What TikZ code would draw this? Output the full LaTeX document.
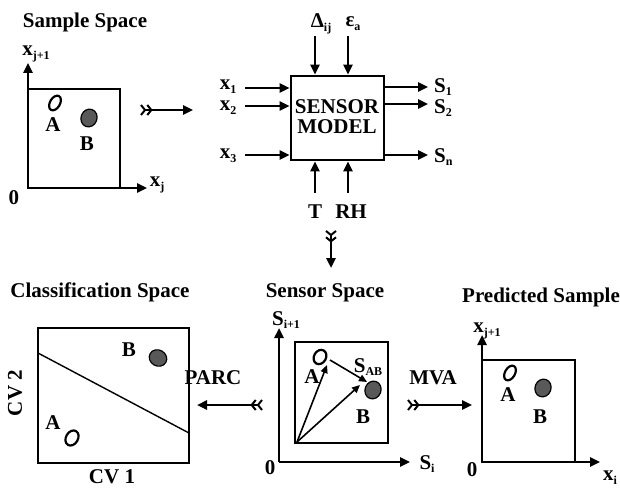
\documentclass[tikz,border=0pt]{standalone}
\usepackage{fontspec}
\setmainfont{Liberation Serif}
\usetikzlibrary{arrows.meta}
\newcommand{\sbs}[1]{\raisebox{-0.4ex}{\fontsize{12}{12}\selectfont #1}}
\begin{document}
\begin{tikzpicture}[x=1pt,y=-1pt,
  lbl/.style={font=\fontsize{21}{21}\selectfont\bfseries, inner sep=0pt},
  thk/.style={line width=2.6pt},
  arr/.style={line width=2.4pt, -{Triangle[length=10pt,width=9pt]}},
  varr/.style={line width=1.6pt, -{Triangle[length=8pt,width=7pt]}},
  farr/.style={line width=2.4pt, {Straight Barb[reversed,length=4pt,width=10pt,line width=2pt]Straight Barb[reversed,length=4pt,width=10pt,line width=2pt]}-{Triangle[length=10pt,width=9pt]}},
  openell/.style={draw, line width=2.2pt},
  fillell/.style={draw, line width=1.2pt, fill=black!65}
]
\useasboundingbox (0,0) rectangle (620,489);

% ---------- Sample Space ----------
\node[lbl] (t1) at (85,22) {Sample Space};
\coordinate (o1) at (28,188);
\coordinate (y1) at (28,63);
\coordinate (x1e) at (147,188);
\draw[arr] (o1) -- (y1);
\draw[arr] (o1) -- (x1e);
\draw[thk] (o1) -- (28,89) -- (120,89) -- (120,188) -- cycle;
\node[lbl] (l1y) at (36,54) {x\sbs{j+1}};
\node[lbl] (l1x) at (157,185) {x\sbs{j}};
\node[lbl] (l10) at (14,198) {0};
\draw[openell, rotate around={-30:(55,103)}] (55,103) ellipse [x radius=5, y radius=8];
\node[lbl] (l1a) at (53,125) {A};
\draw[fillell, rotate around={-20:(89,118)}] (89,118) ellipse [x radius=8, y radius=9];
\node[lbl] (l1b) at (87,144) {B};

\coordinate (s1from) at (140,110);
\coordinate (s1to) at (193,110);
\draw[farr] (s1from) -- (s1to);

% ---------- Sensor model ----------
\node[draw, thk, minimum width=93pt, minimum height=84pt, inner sep=0pt] (model) at (337.5,118) {};
\node[lbl, align=center, font=\fontsize{21}{20}\selectfont\bfseries] (mtext) at (337,117) {SENSOR\\MODEL};

\coordinate (in1) at (245,88);
\coordinate (in2) at (245,106);
\coordinate (in3) at (245,155);
\draw[arr] (in1) -- (in1 -| model.west);
\draw[arr] (in2) -- (in2 -| model.west);
\draw[arr] (in3) -- (in3 -| model.west);
\node[lbl] (lx1) at (228,87) {x\sbs{1}};
\node[lbl] (lx2) at (228,108) {x\sbs{2}};
\node[lbl] (lx3) at (228,156) {x\sbs{3}};

\coordinate (out1) at (428,87);
\coordinate (out2) at (428,104);
\coordinate (outn) at (428,155);
\draw[arr] (out1 -| model.east) -- (out1);
\draw[arr] (out2 -| model.east) -- (out2);
\draw[arr] (outn -| model.east) -- (outn);
\node[lbl, anchor=west] (ls1) at (434,87) {S\sbs{1}};
\node[lbl, anchor=west] (ls2) at (434,108) {S\sbs{2}};
\node[lbl, anchor=west] (lsn) at (434,157) {S\sbs{n}};

\coordinate (dtop) at (315,36);
\coordinate (etop) at (348,36);
\draw[arr] (dtop) -- (dtop |- model.north);
\draw[arr] (etop) -- (etop |- model.north);
\node[lbl] (ld) at (321,24) {Δ\sbs{ij}};
\node[lbl] (le) at (353,24) {ε\sbs{a}};

\coordinate (tbot) at (315,193);
\coordinate (rbot) at (348,193);
\draw[arr] (tbot) -- (tbot |- model.south);
\draw[arr] (rbot) -- (rbot |- model.south);
\node[lbl] (lt) at (315,212) {T};
\node[lbl] (lrh) at (351,212) {RH};

\coordinate (dfrom) at (331,230);
\coordinate (dto) at (331,268);
\draw[farr] (dfrom) -- (dto);

% ---------- Classification Space ----------
\node[lbl] (t2) at (100,292) {Classification Space};
\node[draw, thk, minimum width=151pt, minimum height=135pt, inner sep=0pt] (cbox) at (113.5,395.5) {};
\draw[line width=1.4pt] (38,353) -- (189,433);
\node[lbl] (l2b) at (129,350) {B};
\draw[fillell, rotate around={-30:(158,358)}] (158,358) ellipse [x radius=9, y radius=8];
\node[lbl] (l2a) at (53,423) {A};
\draw[openell, rotate around={-30:(72,438)}] (72,438) ellipse [x radius=6, y radius=8];
\node[lbl, rotate=90] (lcv2) at (15,393) {CV 2};
\node[lbl] (lcv1) at (112,477) {CV 1};

\node[lbl] (lparc) at (213,378) {PARC};
\coordinate (pfrom) at (263,405);
\coordinate (pto) at (197,405);
\draw[farr] (pfrom) -- (pto);

% ---------- Sensor Space ----------
\node[lbl] (t3) at (325,293) {Sensor Space};
\coordinate (o3) at (279,462);
\coordinate (y3) at (279,328);
\coordinate (x3e) at (410,462);
\draw[arr] (o3) -- (y3);
\draw[arr] (o3) -- (x3e);
\node[draw, thk, minimum width=93pt, minimum height=101pt, inner sep=0pt] (sbox) at (341.5,392.5) {};
\node[lbl] (l3y) at (286,320) {S\sbs{i+1}};
\node[lbl] (l3x) at (427,464) {S\sbs{i}};
\node[lbl] (l30) at (270,468) {0};
\draw[openell, rotate around={-30:(320,357)}] (320,357) ellipse [x radius=6, y radius=7.5];
\draw[fillell, rotate around={-20:(373,390)}] (373,390) ellipse [x radius=8, y radius=9];
\node[lbl] (l3a) at (312,377) {A};
\node[lbl] (l3b) at (363,417) {B};
\node[lbl] (l3ab) at (368,367) {S\sbs{AB}};
\coordinate (sv0) at (297,442);
\coordinate (sva) at (327,365);
\coordinate (svb) at (360,385);
\coordinate (sab0) at (330,360);
\coordinate (sab1) at (367,382);
\draw[varr] (sv0) -- (sva);
\draw[varr] (sv0) -- (svb);
\draw[varr] (sab0) -- (sab1);

\node[lbl] (lmva) at (433,378) {MVA};
\coordinate (mfrom) at (407,405);
\coordinate (mto) at (472,405);
\draw[farr] (mfrom) -- (mto);

% ---------- Predicted Sample ----------
\node[lbl] (t4) at (541,297) {Predicted Sample};
\coordinate (o4) at (482,462);
\coordinate (y4) at (482,335);
\coordinate (x4e) at (600,462);
\draw[arr] (o4) -- (y4);
\draw[arr] (o4) -- (x4e);
\draw[thk] (o4) -- (482,360) -- (575,360) -- (575,462) -- cycle;
\node[lbl] (l4y) at (487,331) {x\sbs{j+1}};
\node[lbl] (l4x) at (610,478) {x\sbs{i}};
\node[lbl] (l40) at (472,470) {0};
\draw[openell, rotate around={-30:(510,373)}] (510,373) ellipse [x radius=5, y radius=8];
\node[lbl] (l4a) at (508,395) {A};
\draw[fillell, rotate around={-20:(543,388)}] (543,388) ellipse [x radius=8, y radius=9];
\node[lbl] (l4b) at (540,417) {B};
\end{tikzpicture}
\end{document}
